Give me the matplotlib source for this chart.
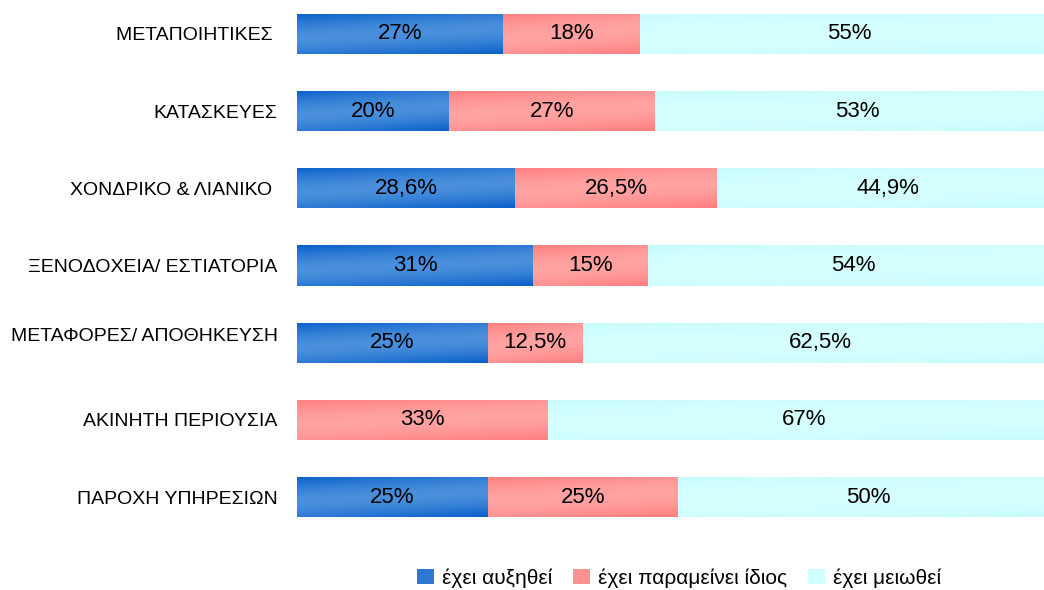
import numpy as np
import matplotlib
matplotlib.use("Agg")
import matplotlib.pyplot as plt
from matplotlib.patches import Patch
from matplotlib.colors import to_rgb

categories = ["ΜΕΤΑΠΟΙΗΤΙΚΕΣ ", "ΚΑΤΑΣΚΕΥΕΣ", "ΧΟΝΔΡΙΚΟ & ΛΙΑΝΙΚΟ ", "ΞΕΝΟΔΟΧΕΙΑ/ ΕΣΤΙΑΤΟΡΙΑ",
              "ΜΕΤΑΦΟΡΕΣ/ ΑΠΟΘΗΚΕΥΣΗ\n", "ΑΚΙΝΗΤΗ ΠΕΡΙΟΥΣΙΑ", "ΠΑΡΟΧΗ ΥΠΗΡΕΣΙΩΝ"]
increased = [27, 20, 28.6, 31, 25, 0, 25]
same = [18, 27, 26.5, 15, 12.5, 33, 25]
decreased = [55, 53, 44.9, 54, 62.5, 67, 50]
series_names = ["έχει αυξηθεί", "έχει παραμείνει ίδιος", "έχει μειωθεί"]

FONT = ["Liberation Sans Narrow", "Liberation Sans", "DejaVu Sans"]
plt.rcParams["font.family"] = FONT

# (dark, light) gradient colours per series
grads = [("#0a5fca", "#4a90dc"), ("#ff7e7e", "#ffa3a3"), ("#c8fcfc", "#d6ffff")]
legend_cols = ["#2f78d2", "#ff9191", "#d0ffff"]

W, H = 1044, 590
fig = plt.figure(figsize=(W / 100, H / 100), dpi=100)
ax = fig.add_axes([297 / W, 1 - 535.6 / H, (1059 - 297) / W, 540.2 / H])

y = np.arange(len(categories))
bar_h = 0.52


def gradient_image(dark, light, nx=200, ny=40):
    d = np.array(to_rgb(dark))
    l = np.array(to_rgb(light))
    xs = np.linspace(0, 1, nx)
    ys = np.linspace(0, 1, ny)
    X, Y = np.meshgrid(xs, ys)
    u = 0.2 * X + 0.8 * Y
    t = np.clip(np.abs(u - 0.5) * 2, 0, 1) ** 1.6
    img = l[None, None, :] * (1 - t[..., None]) + d[None, None, :] * t[..., None]
    return img


left = np.zeros(len(categories))
for vals, (dark, light) in zip([increased, same, decreased], grads):
    vals = np.array(vals, dtype=float)
    bars = ax.barh(y, vals, left=left, height=bar_h, color=light, edgecolor="none")
    for b, v, l0, yi in zip(bars, vals, left, y):
        if v <= 0:
            continue
        img = gradient_image(dark, light)
        im = ax.imshow(img, extent=(l0, l0 + v, yi + bar_h / 2, yi - bar_h / 2),
                       aspect="auto", interpolation="bilinear", zorder=2)
        im.set_clip_path(b)
        txt = (f"{v:.1f}".replace(".", ",") if v % 1 else f"{int(v)}") + "%"
        ax.text(l0 + v / 2, yi, txt, ha="center", va="center", fontsize=16,
                color="black", zorder=3, family=FONT)
    left = left + vals

ax.set_xlim(0, 100)
ax.set_ylim(len(categories) - 0.5, -0.5)
ax.set_yticks(y)
ax.set_yticklabels(categories, fontsize=14, family=FONT)
ax.tick_params(axis="y", length=0, pad=14)
ax.set_xticks([])
for s in ax.spines.values():
    s.set_visible(False)

handles = [Patch(facecolor=c, edgecolor="none") for c in legend_cols]
fig.legend(handles, series_names, loc="center", bbox_to_anchor=(679 / W, 1 - 578 / H),
           ncol=3, frameon=False, handlelength=0.8, handleheight=0.8,
           handletextpad=0.4, columnspacing=1.0, prop={"family": FONT, "size": 15})

fig.savefig("out.png", dpi=100)
